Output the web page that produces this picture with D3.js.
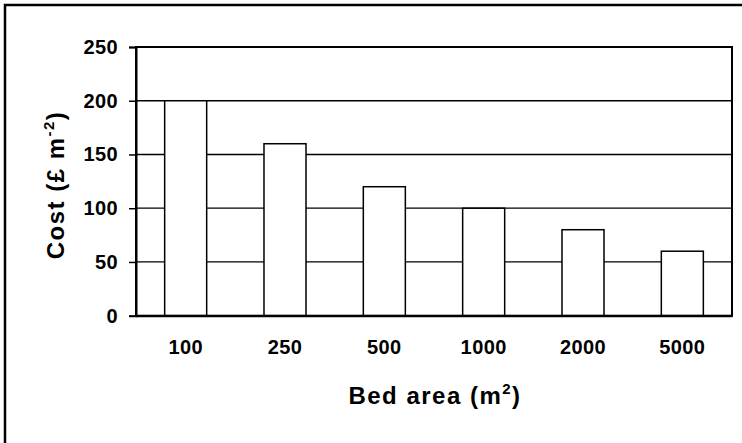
<!DOCTYPE html>
<html>
<head>
<meta charset="utf-8">
<script src="https://cdn.jsdelivr.net/npm/d3@7"></script>
<style>
  body { margin: 0; background: #fff; }
  svg { display: block; }
  text { font-family: Arial, "Liberation Sans", sans-serif; font-weight: bold; fill: #000; }
</style>
</head>
<body>
<div id="chart"></div>
<script>
"use strict";

const bedAreas = ['100', '250', '500', '1000', '2000', '5000'];
const costs = [200, 160, 120, 100, 80, 60];
const yTicks = [0, 50, 100, 150, 200, 250];

const width = 742;
const height = 443;
const margin = { top: 47, right: 10, bottom: 127.3, left: 136 };
const plotW = 732 - margin.left;
const plotH = height - margin.top - margin.bottom;

function translateStr(x, y) {
  return 'translate(' + x + ', ' + y + ')';
}

let svg = d3.select('#chart')
  .append('svg')
  .attr('width', width)
  .attr('height', height);

// outer frame, runs off the right and bottom edges
svg.append('rect')
  .attr('x', 5)
  .attr('y', 5)
  .attr('width', 800)
  .attr('height', 600)
  .attr('fill', 'none')
  .attr('stroke', '#000')
  .attr('stroke-width', 2.5);

let g = svg.append('g')
  .attr('transform', translateStr(margin.left, margin.top));

let x = d3.scaleBand()
  .domain(bedAreas)
  .range([0, plotW])
  .paddingInner(0.577)
  .paddingOuter(0.2885);

let y = d3.scaleLinear()
  .domain([0, 250])
  .range([plotH, 0]);

// gridlines
g.append('g')
  .selectAll('line')
  .data(yTicks.filter(d => d > 0))
  .join('line')
  .attr('x1', 0)
  .attr('x2', plotW)
  .attr('y1', d => y(d))
  .attr('y2', d => y(d))
  .attr('stroke', '#000')
  .attr('stroke-width', 1.3);

// bars
g.append('g')
  .selectAll('rect')
  .data(costs)
  .join('rect')
  .attr('x', (d, i) => x(bedAreas[i]))
  .attr('y', d => y(d))
  .attr('width', x.bandwidth())
  .attr('height', d => plotH - y(d))
  .attr('fill', '#fff')
  .attr('stroke', '#000')
  .attr('stroke-width', 1.5);

// plot frame (top and right)
g.append('rect')
  .attr('width', plotW)
  .attr('height', plotH)
  .attr('fill', 'none')
  .attr('stroke', '#000')
  .attr('stroke-width', 2);

let yAxis = g.append('g')
  .call(d3.axisLeft(y).tickValues(yTicks).tickSize(7).tickPadding(11));

let xAxis = g.append('g')
  .attr('transform', translateStr(0, plotH))
  .call(d3.axisBottom(x).tickSize(0).tickPadding(24));

[yAxis, xAxis].forEach(a => {
  a.select('.domain').attr('stroke', '#000').attr('stroke-width', 2);
  a.selectAll('.tick line').attr('stroke', '#000').attr('stroke-width', 1.5);
  a.selectAll('text')
    .attr('font-size', 20)
    .attr('letter-spacing', 0.4)
    .attr('font-family', 'Arial, "Liberation Sans", sans-serif')
    .attr('font-weight', 'bold');
});

// x title
let xt = svg.append('text')
  .attr('x', 435)
  .attr('y', 404)
  .attr('text-anchor', 'middle')
  .attr('font-size', 24)
  .attr('letter-spacing', 1.5);
xt.append('tspan').text('Bed area (m');
xt.append('tspan').attr('font-size', 15).attr('dy', -10).text('2');
xt.append('tspan').attr('dy', 10).text(')');

// y title
let yt = svg.append('text')
  .attr('transform', translateStr(63.5, 185) + ' rotate(-90)')
  .attr('text-anchor', 'middle')
  .attr('font-size', 24)
  .attr('letter-spacing', 1.5);
yt.append('tspan').text('Cost (£ m');
yt.append('tspan').attr('font-size', 15).attr('dy', -10).text('-2');
yt.append('tspan').attr('dy', 10).text(')');
</script>
</body>
</html>
